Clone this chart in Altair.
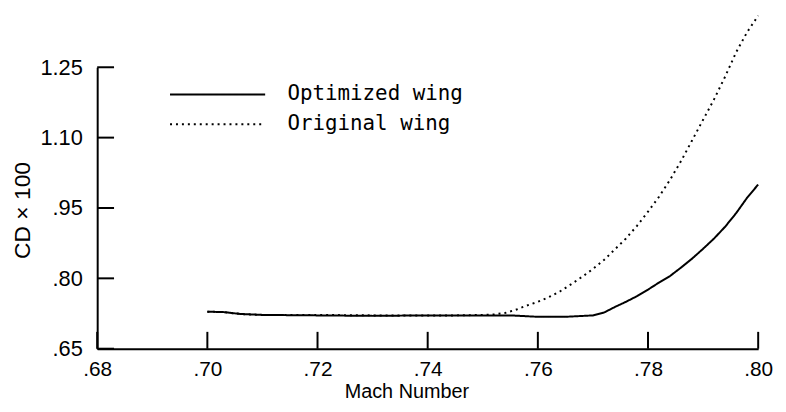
import altair as alt
import pandas as pd

# Data
mach_opt = [0.700, 0.703, 0.706, 0.710, 0.720, 0.730, 0.740, 0.750, 0.755, 0.760, 0.765,
            0.770, 0.772, 0.774, 0.776, 0.778, 0.780, 0.782, 0.784, 0.786, 0.788, 0.790,
            0.792, 0.794, 0.796, 0.798, 0.800]
cd_opt = [0.729, 0.728, 0.724, 0.722, 0.721, 0.720, 0.721, 0.721, 0.721, 0.718, 0.718,
          0.721, 0.727, 0.739, 0.750, 0.762, 0.776, 0.791, 0.805, 0.823, 0.842, 0.863,
          0.885, 0.910, 0.939, 0.972, 1.000]

mach_orig = [0.700, 0.703, 0.706, 0.710, 0.720, 0.730, 0.740, 0.745, 0.750, 0.752, 0.754,
             0.756, 0.758, 0.760, 0.762, 0.764, 0.766, 0.768, 0.770, 0.772, 0.774, 0.776,
             0.778, 0.780, 0.782, 0.784, 0.786, 0.788, 0.790, 0.792, 0.794, 0.796, 0.798, 0.800]
cd_orig = [0.729, 0.728, 0.724, 0.722, 0.722, 0.721, 0.721, 0.721, 0.722, 0.723, 0.726,
           0.733, 0.742, 0.750, 0.760, 0.772, 0.787, 0.803, 0.820, 0.839, 0.862, 0.885,
           0.912, 0.942, 0.974, 1.010, 1.050, 1.094, 1.138, 1.182, 1.230, 1.282, 1.325, 1.360]

series_names = ["Optimized wing", "Original wing"]
x_ticks = [0.68, 0.70, 0.72, 0.74, 0.76, 0.78, 0.80]
y_ticks = [0.65, 0.80, 0.95, 1.10, 1.25]

df = pd.concat([
    pd.DataFrame({"mach": mach_opt, "cd": cd_opt, "series": series_names[0]}),
    pd.DataFrame({"mach": mach_orig, "cd": cd_orig, "series": series_names[1]}),
])
xt = pd.DataFrame({"x": x_ticks})
yt = pd.DataFrame({"y": y_ticks})

xs = alt.Scale(domain=[x_ticks[0], x_ticks[-1]], nice=False, zero=False)
ys = alt.Scale(domain=[y_ticks[0], y_ticks[-1]], nice=False, zero=False)

lab_x = "slice(format(datum.value, '.2f'), 1)"
lab_y = "datum.value < 1 ? slice(format(datum.value, '.2f'), 1) : format(datum.value, '.2f')"

lines = alt.Chart(df).mark_line(strokeWidth=2, color="black").encode(
    x=alt.X("mach:Q", scale=xs, axis=alt.Axis(
        values=x_ticks, labelExpr=lab_x, ticks=False,
        domain=True, domainColor="black", domainWidth=2, grid=False,
        labelFont="Liberation Sans", labelFontSize=21, labelColor="black", labelPadding=10,
        labelFlush=False, labelOverlap=False,
        title="Mach Number", titleFont="Liberation Sans", titleFontSize=20,
        titleFontWeight="normal", titleColor="black", titleX=312, titleY=49,
        titleAlign="center", titleBaseline="alphabetic")),
    y=alt.Y("cd:Q", scale=ys, axis=alt.Axis(
        values=y_ticks, labelExpr=lab_y, ticks=False,
        domain=True, domainColor="black", domainWidth=2, grid=False,
        labelFont="Liberation Sans", labelFontSize=22, labelColor="black", labelPadding=15,
        labelFlush=False, labelOverlap=False,
        title="CD × 100", titleFont="Liberation Sans", titleFontSize=23,
        titleFontWeight="normal", titleColor="black", titleAngle=270, titleX=-68, titleY=144,
        titleAlign="center", titleBaseline="alphabetic")),
    strokeDash=alt.StrokeDash("series:N", scale=alt.Scale(
        domain=series_names, range=[[1, 0], [2, 4]]), legend=alt.Legend(
        orient="none", legendX=111, legendY=17, title=None,
        symbolType="M-8,0H8", symbolSize=144, symbolStrokeWidth=2,
        symbolStrokeColor="black", symbolFillColor="black",
        labelFont="DejaVu Sans Mono", labelFontSize=21, labelColor="black",
        labelOffset=60, labelLimit=400, rowPadding=8)),
    detail="series:N",
)

# inward ticks drawn as short rules at the tick values
xtick_rules = alt.Chart(xt).mark_rule(color="black", strokeWidth=2).encode(
    x=alt.X("x:Q", scale=xs),
    y=alt.value(284),
    y2=alt.value(267),
)
ytick_rules = alt.Chart(yt).mark_rule(color="black", strokeWidth=2).encode(
    y=alt.Y("y:Q", scale=ys),
    x=alt.value(0),
    x2=alt.value(17),
)

chart = alt.layer(lines, xtick_rules, ytick_rules).properties(
    width=667, height=284,
    autosize=alt.AutoSizeParams(type="none"),
    padding={"left": 90, "top": 58, "right": 20, "bottom": 54},
    background="white",
).configure_view(stroke=None)

chart.save("out.html", embed_options={"renderer": "svg", "actions": False})
